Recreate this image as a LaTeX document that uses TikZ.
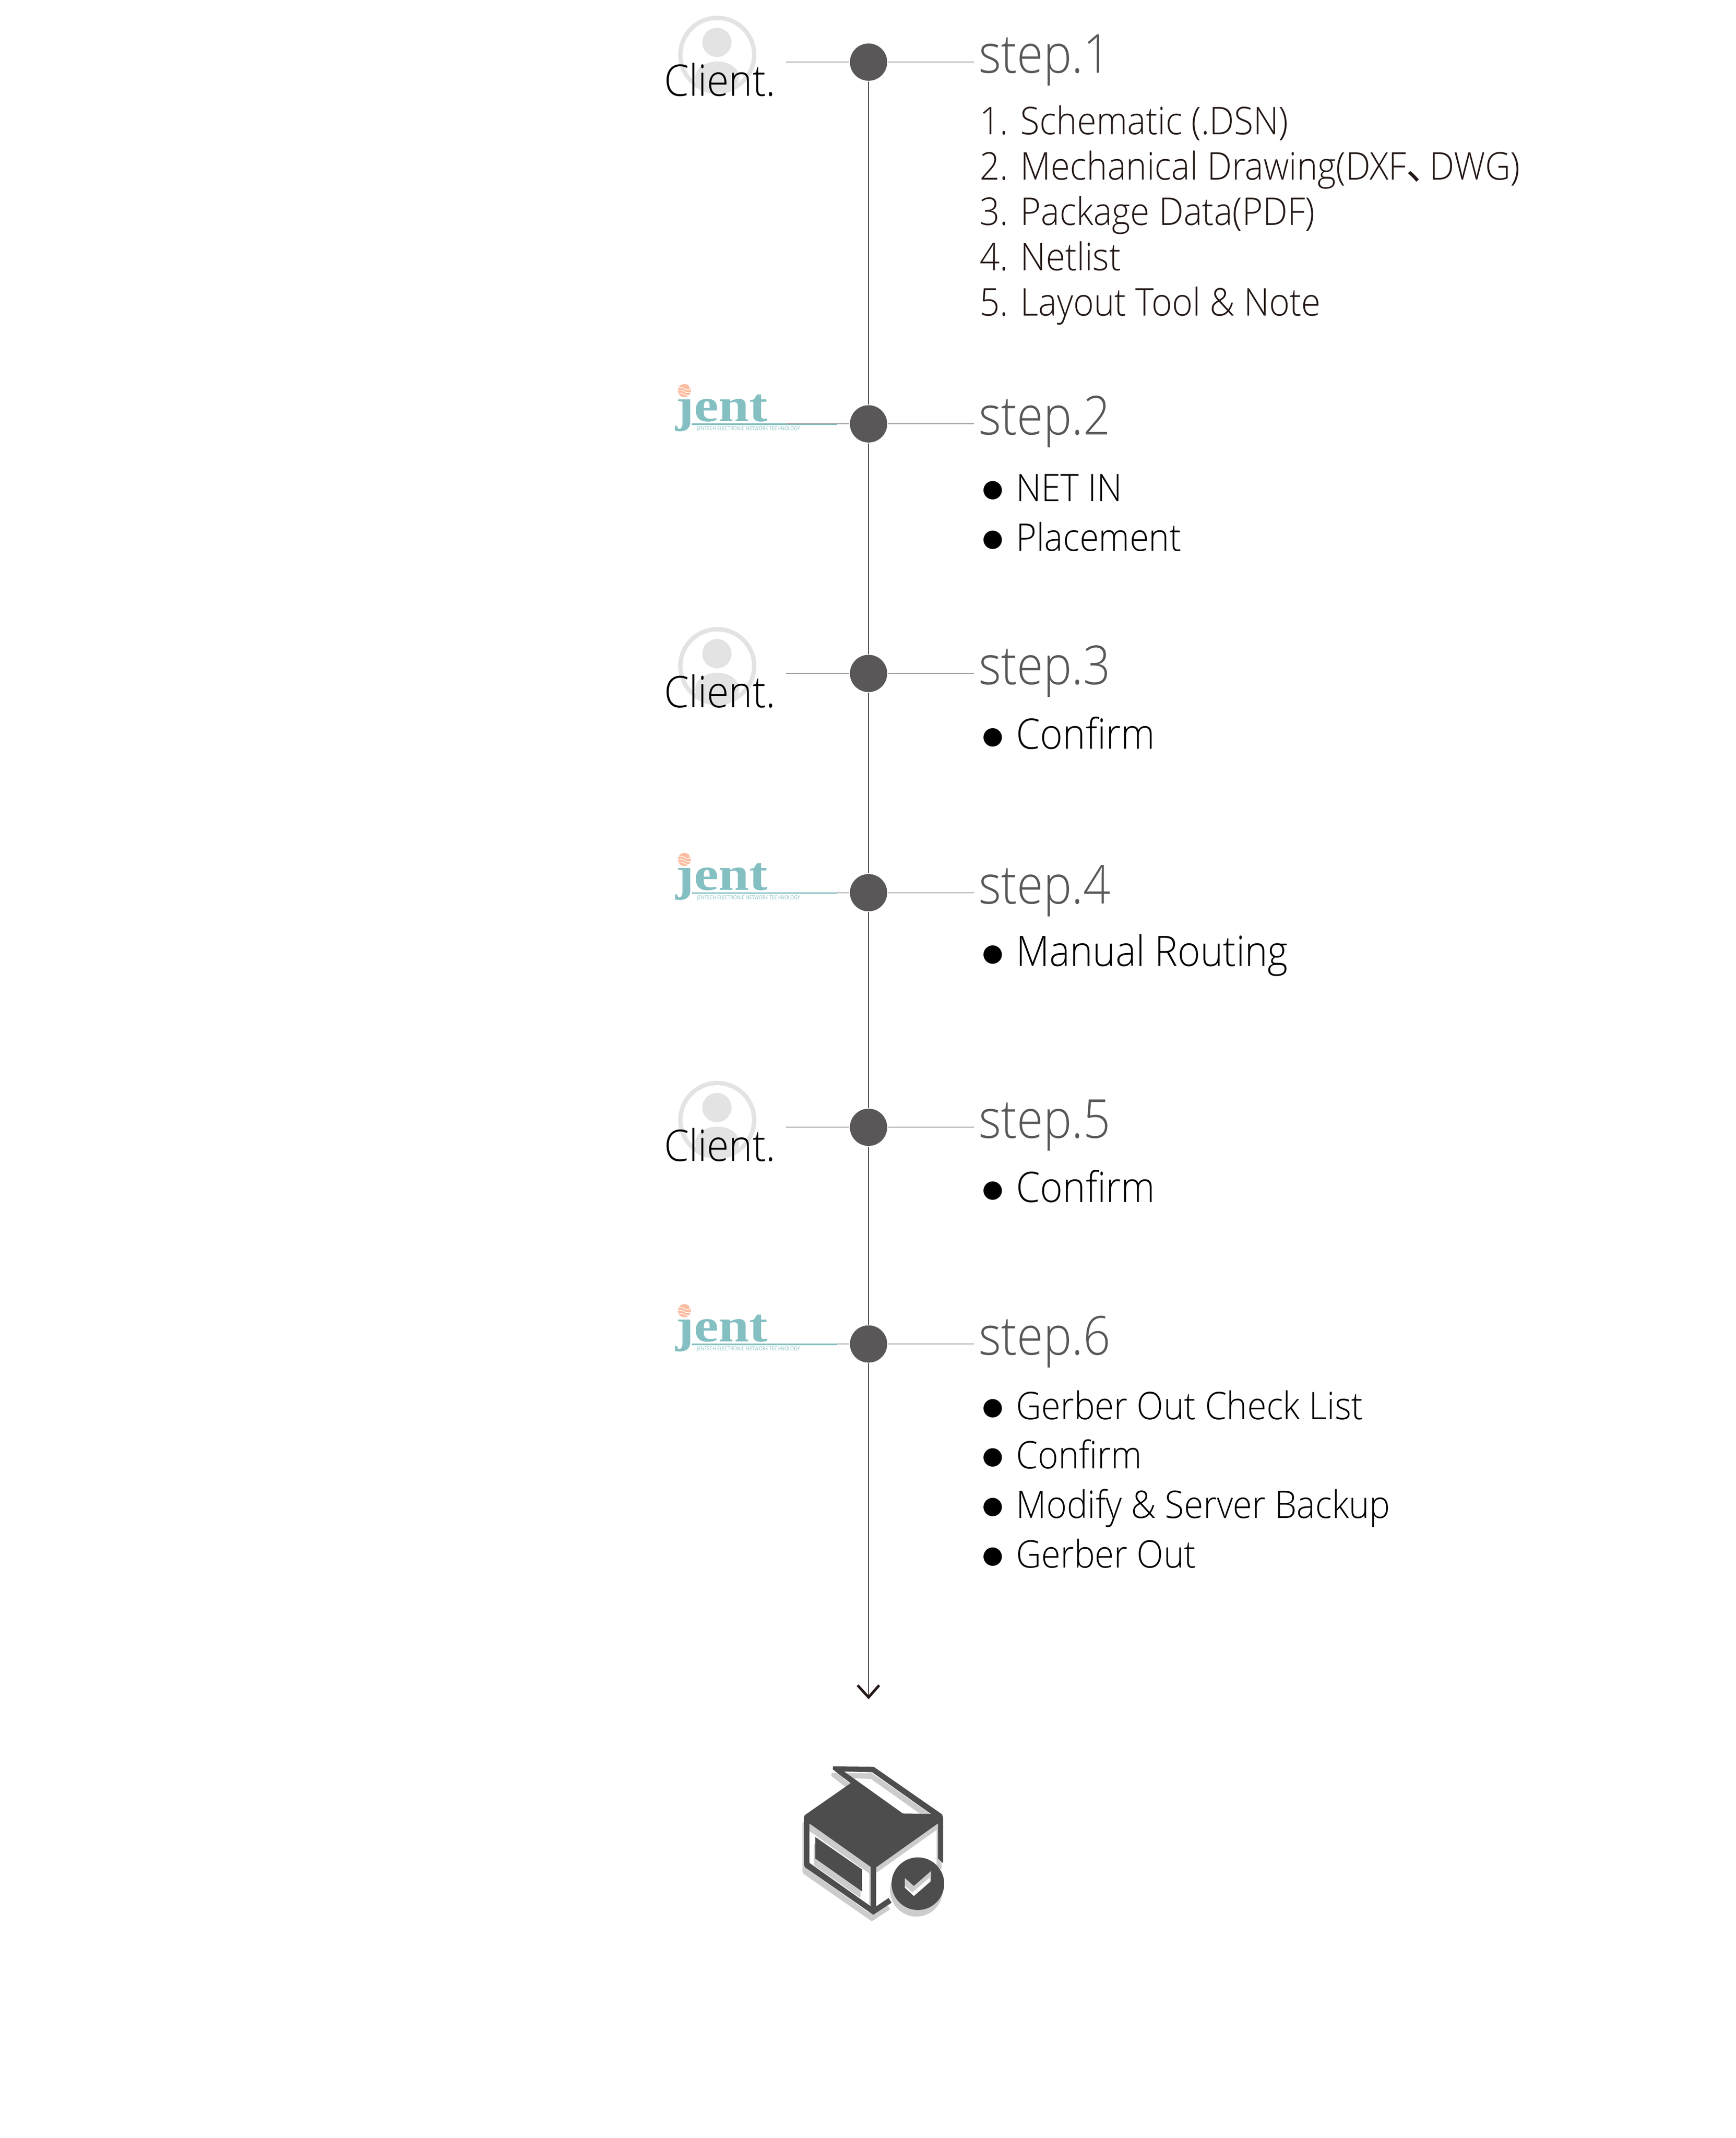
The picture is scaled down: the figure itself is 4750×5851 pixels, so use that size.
\documentclass[tikz,border=0pt]{standalone}
\usepackage{fontspec}
\setmainfont{Open Sans Light}[FakeStretch=0.92]
\newfontfamily\titlefont{Open Sans Light}[FakeStretch=0.89]
\newfontfamily\tagfont{Open Sans}[FakeStretch=0.85]
\newfontfamily\cjkfont{Noto Sans CJK SC}
\newfontfamily\dotfont{DejaVu Sans}
\newfontfamily\logofont{Liberation Serif}[BoldFont=* Bold]
\definecolor{dotgray}{HTML}{595757}
\definecolor{linegray}{HTML}{A09C9B}
\definecolor{linedark}{HTML}{3E3A39}
\definecolor{inkblack}{HTML}{231815}
\definecolor{iconlight}{HTML}{E3E3E3}
\definecolor{iconteal}{HTML}{84BFC2}
\definecolor{iconchip}{HTML}{FBBC9F}
\definecolor{boxdark}{HTML}{4D4D4D}
\definecolor{boxshade}{HTML}{CCCCCC}
\tikzset{
  stepdot/.style={circle,fill=dotgray,minimum size=10.2pt,inner sep=0pt},
  steptitle/.style={anchor=base west,inner sep=0pt,text=dotgray,font=\titlefont\fontsize{14.7}{16}\selectfont},
  steplist/.style={anchor=north west,inner sep=0pt,align=left,text=black,font=\fontsize{10.4}{13.55}\selectfont},
  steplarge/.style={steplist,font=\fontsize{11.5}{13.55}\selectfont},
  filelist/.style={anchor=north west,inner sep=0pt,align=left,text=inkblack,font=\fontsize{10.45}{12.4}\selectfont},
  clientname/.style={anchor=base,inner sep=0pt,font=\fontsize{11.9}{13}\selectfont},
  tie/.style={draw=linegray,line width=.2pt},
  spine/.style={draw=linedark,line width=.26pt}
}
\newcommand{\itemdot}{\makebox[9.3pt][l]{\raisebox{.125em}{\dotfont\fontsize{6.6}{7}\selectfont ●}}}
\begin{document}
\begin{tikzpicture}[x=.1pt,y=-.1pt]
\useasboundingbox (0,0) rectangle (4750,5851);
\foreach \n/\y/\t in {1/170/1,2/1160/2,3/1843/3,4/2443/4,5/3085/5,6/3678/6}{
  \coordinate (left\n) at (2151,\y);
  \coordinate (right\n) at (2666,\y);
  \node[stepdot] (dot\n) at (2377,\y) {};
  \node[steptitle] (title\n) at (2677,\y+30) {step.\t};
  \draw[tie] (left\n) -- (dot\n);
  \draw[tie] (dot\n) -- (right\n);
}
\coordinate (tip) at (2377,4645);
\draw[spine] (dot1) -- (dot2);
\draw[spine] (dot2) -- (dot3);
\draw[spine] (dot3) -- (dot4);
\draw[spine] (dot4) -- (dot5);
\draw[spine] (dot5) -- (dot6);
\draw[spine] (dot6) -- (tip);
\draw[line width=.7pt,draw=inkblack] (2347,4612) -- (tip) -- (2406,4612);
\node[filelist] (files) at (2680,287) {1. Schematic (.DSN)\\2. Mechanical Drawing(DXF\makebox[6.4pt][l]{\cjkfont 、}DWG)\\3. Package Data(PDF)\\4. Netlist\\5. Layout Tool \& Note};
\node[steplist] (list2) at (2686,1296) {\itemdot NET IN\\\itemdot Placement};
\node[steplarge] (list3) at (2686,1960) {\itemdot Confirm};
\node[steplarge] (list4) at (2686,2555) {\itemdot Manual Routing};
\node[steplarge] (list5) at (2686,3200) {\itemdot Confirm};
\node[steplist] (list6) at (2686,3803) {\itemdot Gerber Out Check List\\\itemdot Confirm\\\itemdot Modify \& Server Backup\\\itemdot Gerber Out};
% client marks
\foreach \n/\y in {1/170,3/1843,5/3085}{
  \fill[iconlight] (1963,\y-20) circle [radius=107];
  \fill[white] (1963,\y-20) circle [radius=95];
  \fill[iconlight] (1962,\y-54) circle [radius=40];
  \fill[iconlight] (1963,\y+42) ellipse [x radius=60,y radius=44];
  \node[clientname] (client\n) at (1970,\y+93) {Client.};
}
% jent marks
\foreach \n/\y in {2/1160,4/2443,6/3678}{
  \node[anchor=base west,inner sep=0pt,text=iconteal,font=\logofont\bfseries\fontsize{13}{13}\selectfont,xscale=1.16] (logo\n) at (1847,\y-7) {jent};
  \fill[iconchip] (1873,\y-91) circle [radius=18];
  \foreach \k in {-9,-1,7}
    \draw[white,line width=.17pt] (1855,\y-91+\k) -- (1866,\y-91+\k) -- (1878,\y-85+\k) -- (1891,\y-85+\k);
  \draw[white,line width=.2pt] (1888,\y-106) -- (1887,\y-96);
  \fill[iconteal] (1893,\y-1) rectangle (2291,\y+3);
  \node[anchor=base west,inner sep=0pt,text=iconteal,font=\tagfont\fontsize{1.5}{2}\selectfont] (tag\n) at (1906,\y+18) {JENTECH ELECTRONIC NETWORK TECHNOLOGY};
}
\draw[tie] (left2) -- (dot2);
% finished box
\def\boxpath{(2280,4834) -- (2391,4835) -- (2578,4965) -- (2581,4974) -- (2581,5099) -- (2567,5086) -- (2567,4990) -- (2398,5110) -- (2398,5217) -- (2432,5194) -- (2440,5207) -- (2390,5240) -- (2203,5110) -- (2200,5102) -- (2200,4972) -- (2203,4967) -- (2328,4880) -- (2279,4842) -- cycle
  (2310,4848) -- (2387,4850) -- (2548,4964) -- (2471,4963) -- cycle
  (2215,4990) -- (2383,5109) -- (2383,5217) -- (2215,5098) -- cycle
  (2231,5027) -- (2359,5116) -- (2359,5176) -- (2231,5086) -- cycle
  (2512,5155) circle [radius=72]
  (2476,5139) -- (2501,5161) -- (2548,5120) -- (2548,5148) -- (2501,5189) -- (2476,5166) -- cycle}
\fill[boxshade,even odd rule,shift={(-4,18)}] \boxpath;
\fill[boxdark,even odd rule] \boxpath;
\end{tikzpicture}
\end{document}
